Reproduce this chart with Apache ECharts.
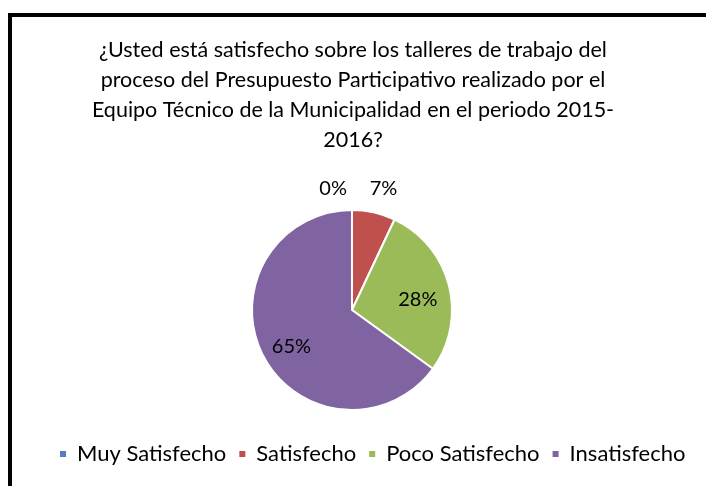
<!DOCTYPE html>
<html>
<head>
<meta charset="utf-8">
<script src="https://cdn.jsdelivr.net/npm/echarts@6/dist/echarts.min.js"></script>
<style>
  html, body { margin: 0; padding: 0; background: #fff; }
  #main { width: 706px; height: 486px; }
</style>
</head>
<body>
<div id="main"></div>
<script>
// datos
var categorias = ['Muy Satisfecho', 'Satisfecho', 'Poco Satisfecho', 'Insatisfecho'];
var porcentajes = [0, 7, 28, 65];
var colores = ['#4F81BD', '#C0504D', '#9BBB59', '#8064A2'];
var titulo = '¿Usted está satisfecho sobre los talleres de trabajo del\nproceso del Presupuesto Participativo realizado por el\nEquipo Técnico de la Municipalidad en el periodo 2015-\n2016?';

var fuente = 'Lato';
var chart = echarts.init(document.getElementById('main'));

var datos = categorias.map(function (c, i) {
  var fuera = porcentajes[i] < 10;
  return {
    name: c,
    value: porcentajes[i],
    itemStyle: { color: colores[i] },
    label: { show: fuera }
  };
});
// etiquetas interiores en una capa transparente (más hacia el borde)
var datosDentro = categorias.map(function (c, i) {
  return {
    name: c,
    value: porcentajes[i],
    itemStyle: { color: 'rgba(0,0,0,0)' },
    label: { show: porcentajes[i] >= 10 }
  };
});

var option = {
  backgroundColor: '#fff',
  animation: false,
  title: {
    text: titulo,
    left: 'center',
    top: 30,
    textStyle: {
      fontFamily: fuente,
      fontSize: 21.5,
      fontWeight: 'normal',
      color: '#000',
      lineHeight: 30
    }
  },
  legend: {
    bottom: 16,
    left: 53,
    icon: 'rect',
    itemWidth: 8,
    itemHeight: 8,
    itemGap: 11,
    data: categorias,
    textStyle: { fontFamily: fuente, fontSize: 22, color: '#000', padding: [0, 0, 0, 5] }
  },
  graphic: [{
    type: 'rect',
    shape: { x: 10, y: 15, width: 800, height: 600 },
    style: { fill: 'none', stroke: '#000', lineWidth: 4 },
    silent: true
  }],
  series: [
    {
      type: 'pie',
      center: [352, 310],
      radius: 100,
      startAngle: 90,
      clockwise: true,
      avoidLabelOverlap: false,
      itemStyle: { borderColor: '#fff', borderWidth: 2 },
      label: {
        position: 'outside',
        formatter: '{d}%',
        fontFamily: fuente,
        fontSize: 20,
        color: '#000'
      },
      labelLine: { show: false, length: 18, length2: 0 },
      labelLayout: function (p) {
        if (p.dataIndex === 0) return { dy: -3 };
        if (p.dataIndex === 1) return { dx: -13, dy: -6 };
      },
      data: datos
    },
    {
      type: 'pie',
      center: [352, 310],
      radius: 130,
      startAngle: 90,
      clockwise: true,
      silent: true,
      legendHoverLink: false,
      label: {
        position: 'inside',
        formatter: '{d}%',
        fontFamily: fuente,
        fontSize: 20,
        color: '#000'
      },
      labelLine: { show: false },
      labelLayout: function () {
        return { dy: 6 };
      },
      data: datosDentro
    }
  ]
};
chart.setOption(option);
</script>
</body>
</html>
